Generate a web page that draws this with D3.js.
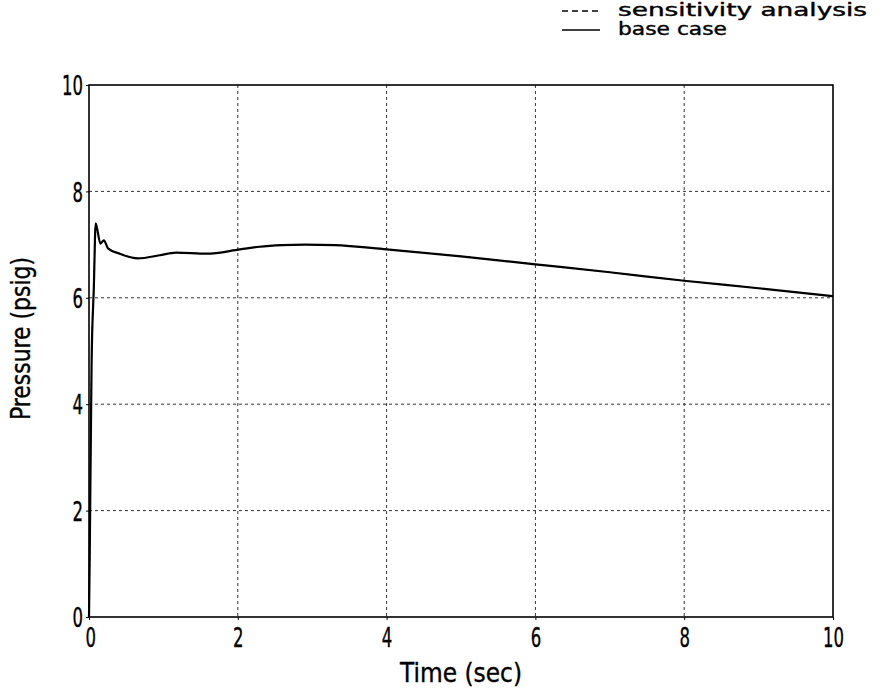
<!DOCTYPE html>
<html>
<head>
<meta charset="utf-8">
<script src="https://cdn.jsdelivr.net/npm/d3@7"></script>
<style>
  body { margin: 0; background: #fff; }
  text { font-family: "DejaVu Sans Condensed", "DejaVu Sans", sans-serif; fill: #000; stroke: #000; stroke-width: 0.35px; }
</style>
</head>
<body>
<div id="chart"></div>
<script>
// data
const timeSec = [0, 0.01, 0.035, 0.065, 0.09, 0.153, 0.2, 0.255, 0.41, 0.66, 0.95, 1.17, 1.58, 2.03, 2.29, 2.6, 2.9, 3.3, 4, 5, 6, 7, 8, 9, 10];
const baseCase = [0, 1.2, 4.8, 6.2, 7.4, 7.02, 7.08, 6.93, 6.83, 6.74, 6.8, 6.85, 6.83, 6.91, 6.96, 6.99, 7.0, 6.99, 6.91, 6.78, 6.63, 6.48, 6.32, 6.18, 6.03];
// dashed run lies on top of the base case everywhere
const sensitivity = [0, 1.2, 4.8, 6.2, 7.4, 7.02, 7.08, 6.93, 6.83, 6.74, 6.8, 6.85, 6.83, 6.91, 6.96, 6.99, 7.0, 6.99, 6.91, 6.78, 6.63, 6.48, 6.32, 6.18, 6.03];
const xTicks = [0, 2, 4, 6, 8, 10];
const yTicks = [0, 2, 4, 6, 8, 10];
const legendNames = ['sensitivity analysis', 'base case'];

const width = 883, height = 691;
const margin = { top: 85, right: 50, bottom: 74, left: 89 };
const w = width - margin.left - margin.right;
const h = height - margin.top - margin.bottom;
const squeeze = 0.68;

const svg = d3.select('#chart').append('svg')
    .attr('width', width)
    .attr('height', height);

const chart = svg.append('g')
    .attr('transform', `translate(${margin.left},${margin.top})`);

const x = d3.scaleLinear().domain([0, 10]).range([0, w]);
const y = d3.scaleLinear().domain([0, 10]).range([h, 0]);

// grid
chart.selectAll('.vgrid')
    .data(xTicks.slice(1, -1))
    .enter().append('line')
    .attr('x1', d => x(d)).attr('x2', d => x(d))
    .attr('y1', 0).attr('y2', h)
    .attr('stroke', '#333').attr('stroke-width', 1)
    .attr('stroke-dasharray', '3,3');
chart.selectAll('.hgrid')
    .data(yTicks.slice(1, -1))
    .enter().append('line')
    .attr('x1', 0).attr('x2', w)
    .attr('y1', d => y(d)).attr('y2', d => y(d))
    .attr('stroke', '#333').attr('stroke-width', 1)
    .attr('stroke-dasharray', '3,3');

// axes
const xAxis = d3.axisBottom(x).tickValues(xTicks).tickSize(3).tickFormat(d3.format('d'));
const yAxis = d3.axisLeft(y).tickValues(yTicks).tickSize(3).tickFormat(d3.format('d'));

const gx = chart.append('g')
    .attr('transform', `translate(0,${h})`)
    .call(xAxis);
gx.select('.domain').remove();
gx.selectAll('text')
    .style('font-size', '27px')
    .attr('y', 30)
    .attr('dy', 0)
    .attr('transform', `scale(${squeeze},1)`);
gx.selectAll('.tick').filter(d => d === 0).select('text').attr('x', 2);

const gy = chart.append('g').call(yAxis);
gy.select('.domain').remove();
gy.selectAll('text')
    .style('font-size', '27px')
    .attr('x', -6 / squeeze)
    .attr('dy', '0.36em')
    .attr('transform', `scale(${squeeze},1)`);

// frame
chart.append('rect')
    .attr('x', 0).attr('y', 0)
    .attr('width', w).attr('height', h)
    .attr('fill', 'none')
    .attr('stroke', '#000')
    .attr('stroke-width', 1.6);

// lines
const line = d3.line()
    .x((d, i) => x(timeSec[i]))
    .y(d => y(d))
    .curve(d3.curveMonotoneX);

chart.append('path')
    .datum(baseCase)
    .attr('d', line)
    .attr('fill', 'none')
    .attr('stroke', '#000')
    .attr('stroke-width', 2.2)
    .attr('stroke-linejoin', 'round');

chart.append('path')
    .datum(sensitivity)
    .attr('d', line)
    .attr('fill', 'none')
    .attr('stroke', '#000')
    .attr('stroke-width', 1)
    .attr('stroke-dasharray', '4,3');

// axis titles
svg.append('text')
    .attr('x', 400)
    .attr('y', 682)
    .attr('textLength', 122)
    .attr('lengthAdjust', 'spacingAndGlyphs')
    .style('font-size', '27px')
    .text('Time (sec)');

svg.append('text')
    .attr('transform', 'translate(30,420) rotate(-90)')
    .attr('textLength', 163)
    .attr('lengthAdjust', 'spacingAndGlyphs')
    .style('font-size', '27px')
    .text('Pressure (psig)');

// legend
const legendWidths = [249, 109];
const legend = svg.append('g');
legendNames.forEach((name, i) => {
    const ly = 16 + i * 19;
    legend.append('line')
        .attr('x1', 562).attr('x2', 600)
        .attr('y1', ly - 5).attr('y2', ly - 5)
        .attr('stroke', '#000')
        .attr('stroke-width', 1.4)
        .attr('stroke-dasharray', i === 0 ? '6,4' : null);
    legend.append('text')
        .attr('x', 618)
        .attr('y', ly)
        .attr('textLength', legendWidths[i])
        .attr('lengthAdjust', 'spacingAndGlyphs')
        .style('font-size', '17px')
        .text(name);
});
</script>
</body>
</html>
